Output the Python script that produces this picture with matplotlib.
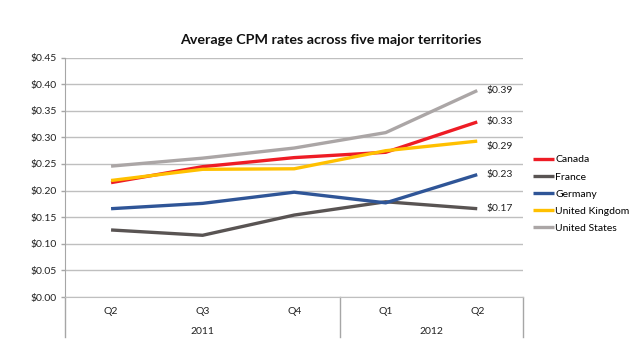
import matplotlib
matplotlib.use("Agg")
import matplotlib.pyplot as plt
from matplotlib.lines import Line2D
import matplotlib.transforms as mtransforms

plt.rcParams['font.family'] = ['Lato', 'DejaVu Sans']

quarters = ["Q2", "Q3", "Q4", "Q1", "Q2"]
years = ["2011", "2012"]
year_spans = [3, 2]  # number of quarters per year

series_names = ["Canada", "France", "Germany", "United Kingdom", "United States"]
canada = [0.215, 0.245, 0.262, 0.272, 0.329]
france = [0.126, 0.116, 0.154, 0.179, 0.166]
germany = [0.166, 0.176, 0.197, 0.177, 0.230]
uk = [0.219, 0.240, 0.241, 0.275, 0.293]
us = [0.246, 0.261, 0.280, 0.309, 0.388]
series_values = [canada, france, germany, uk, us]
colors = ["#EE1C25", "#595453", "#2F5597", "#FFC000", "#ABA6A6"]
label_offsets_px = [0, 0, 0, -5, 0]

W, H = 638, 361
fig = plt.figure(figsize=(W / 100, H / 100), dpi=100)
left, right, top, bottom = 65.3, 523, 57.6, 297
ax = fig.add_axes([left / W, 1 - bottom / H, (right - left) / W, (bottom - top) / H])

x = [i + 0.5 for i in range(len(quarters))]
for name, vals, c in zip(series_names, series_values, colors):
    ax.plot(x, vals, color=c, lw=2.4, label=name, solid_capstyle='butt', zorder=3)

# data labels at last point
for vals, off in zip(series_values, label_offsets_px):
    ax.annotate(f"${vals[-1]:.2f}", (x[-1], vals[-1]), xytext=(7, off * 0.72),
                textcoords='offset points', ha='left', va='center',
                fontsize=7.5, color='#222222')

ax.set_xlim(0, len(quarters))
ax.set_ylim(0, 0.45)
ax.set_yticks([i * 0.05 for i in range(10)])
ax.set_yticklabels([f"${i * 0.05:.2f}" for i in range(10)])
ax.yaxis.grid(True, color='#BFBFBF', lw=1.0)
ax.set_axisbelow(True)
ax.tick_params(axis='y', length=3, width=1, color='#A6A6A6', labelsize=7.5,
               pad=3, labelcolor='#222222')
ax.set_xticks([])
for s in ['top', 'right']:
    ax.spines[s].set_visible(False)
ax.spines['left'].set_color('#A6A6A6')
ax.spines['bottom'].set_color('#BFBFBF')

# category labels
trans = mtransforms.blended_transform_factory(ax.transData, ax.transAxes)
ext = -40 / (bottom - top)
for xi, q in zip(x, quarters):
    ax.text(xi, -14 / (bottom - top), q, transform=trans, ha='center', va='center',
            fontsize=7.5, color='#222222')
start = 0
for yr, span in zip(years, year_spans):
    ax.text(start + span / 2, -35 / (bottom - top), yr, transform=trans, ha='center',
            va='center', fontsize=7.5, color='#222222')
    start += span
# divider lines
bounds = [0]
for span in year_spans:
    bounds.append(bounds[-1] + span)
for b in bounds:
    ax.add_line(Line2D([b, b], [0, ext], transform=trans, color='#A6A6A6', lw=1,
                       clip_on=False))

fig.text(0.5 * (180 + 481) / W, 1 - 40 / H, "Average CPM rates across five major territories",
         ha='center', va='center', fontsize=10.3, fontweight='bold', color='#111111')

leg = fig.legend(loc='center left', bbox_to_anchor=(533 / W, 1 - 194 / H), frameon=False,
                 fontsize=7.5, handlelength=2.0, handletextpad=0.15, labelspacing=0.75,
                 borderpad=0, borderaxespad=0)

fig.savefig("out.png", dpi=100)
